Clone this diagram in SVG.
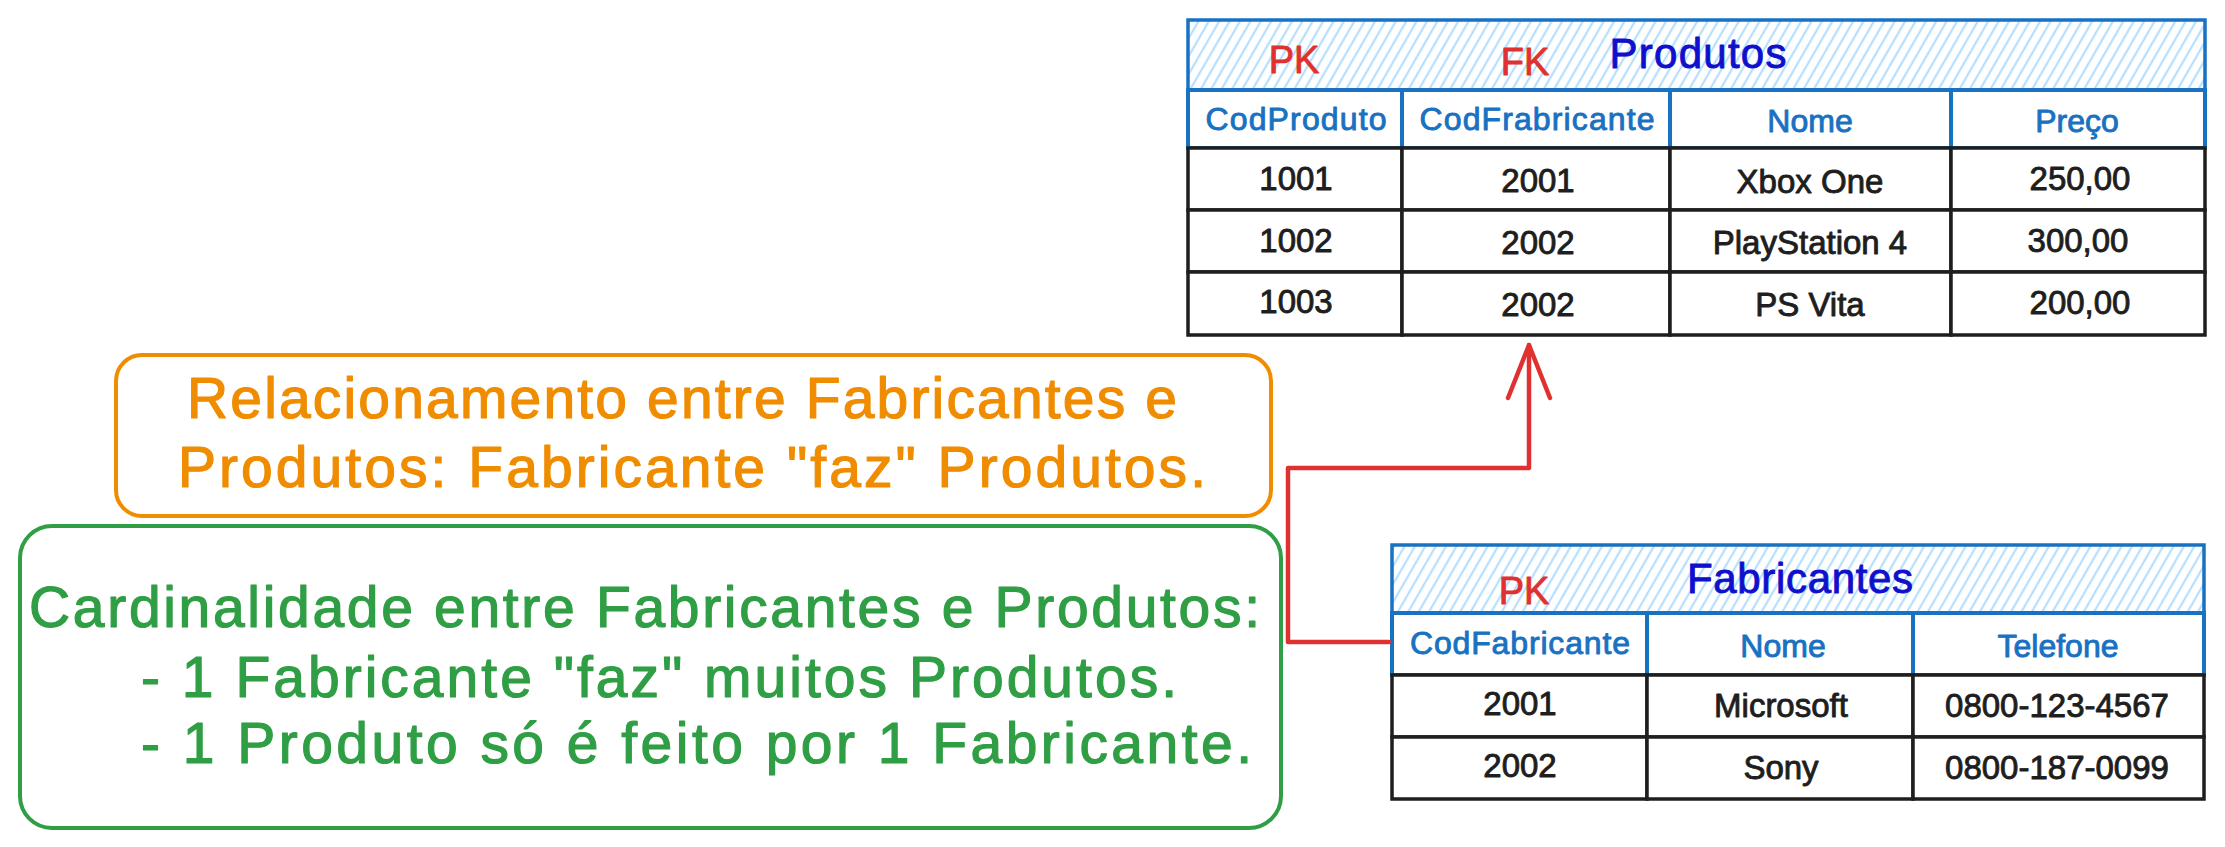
<svg xmlns="http://www.w3.org/2000/svg" width="2225" height="847" viewBox="0 0 2225 847">
<style>
text{font-family:"Liberation Sans",Arial,sans-serif;text-anchor:middle;dominant-baseline:central;stroke-width:0.9;stroke-linejoin:round}
.hdr{fill:url(#hatch);stroke:#1971c2;stroke-width:3.5}
.colh{fill:#fff;stroke:#1971c2;stroke-width:4}
.cell{fill:#fff;stroke:#1e1e1e;stroke-width:3.5}
.key{fill:#e03131;stroke:#e03131;font-size:38px}
.title{fill:#0f0fcc;stroke:#0f0fcc;font-size:42px}
.th{fill:#1971c2;stroke:#1971c2;font-size:32px}
.td{fill:#1e1e1e;stroke:#1e1e1e;font-size:33px}
.note-o{fill:#fff;stroke:#f08c00;stroke-width:4}
.note-g{fill:#fff;stroke:#2f9e44;stroke-width:4}
.to{fill:#f08c00;stroke:#f08c00;stroke-width:1.2;font-size:57px}
.tg{fill:#2f9e44;stroke:#2f9e44;stroke-width:1.2;font-size:57px;text-anchor:start}
.conn{fill:none;stroke:#e03131;stroke-width:4.5;stroke-linejoin:round;stroke-linecap:round}
</style>
<defs>
<pattern id="hatch" width="9" height="9" patternUnits="userSpaceOnUse" patternTransform="rotate(30)">
<rect width="9" height="9" fill="#fff"/>
<line x1="4.5" y1="0" x2="4.5" y2="9" stroke="#a5d8ff" stroke-width="1.8"/>
</pattern>
<marker id="arrow" markerUnits="userSpaceOnUse" viewBox="-60 -26 66 52" markerWidth="66" markerHeight="52" refX="0" refY="0" orient="auto">
<path d="M-53,-21 L0,0 L-53,21" fill="none" stroke="#e03131" stroke-width="4.5" stroke-linecap="round" stroke-linejoin="round"/>
</marker>
</defs>

<g id="produtos">
<rect class="hdr" x="1188" y="20" width="1017" height="70"/>
<text class="key" x="1294" y="60">PK</text>
<text class="key" x="1525" y="62">FK</text>
<text class="title" x="1698" y="53" textLength="177">Produtos</text>
<rect class="colh" x="1188" y="90" width="214" height="58"/>
<rect class="colh" x="1402" y="90" width="268" height="58"/>
<rect class="colh" x="1670" y="90" width="281" height="58"/>
<rect class="colh" x="1951" y="90" width="254" height="58"/>
<text class="th" x="1296" y="119" textLength="181">CodProduto</text>
<text class="th" x="1537" y="119" textLength="235">CodFrabricante</text>
<text class="th" x="1810" y="121">Nome</text>
<text class="th" x="2077" y="121">Preço</text>
<rect class="cell" x="1188" y="148" width="214" height="62"/>
<rect class="cell" x="1402" y="148" width="268" height="62"/>
<rect class="cell" x="1670" y="148" width="281" height="62"/>
<rect class="cell" x="1951" y="148" width="254" height="62"/>
<rect class="cell" x="1188" y="210" width="214" height="62"/>
<rect class="cell" x="1402" y="210" width="268" height="62"/>
<rect class="cell" x="1670" y="210" width="281" height="62"/>
<rect class="cell" x="1951" y="210" width="254" height="62"/>
<rect class="cell" x="1188" y="272" width="214" height="63"/>
<rect class="cell" x="1402" y="272" width="268" height="63"/>
<rect class="cell" x="1670" y="272" width="281" height="63"/>
<rect class="cell" x="1951" y="272" width="254" height="63"/>
<text class="td" x="1296" y="178">1001</text>
<text class="td" x="1538" y="180">2001</text>
<text class="td" x="1810" y="181">Xbox One</text>
<text class="td" x="2080" y="178">250,00</text>
<text class="td" x="1296" y="240">1002</text>
<text class="td" x="1538" y="242">2002</text>
<text class="td" x="1810" y="242">PlayStation 4</text>
<text class="td" x="2078" y="240">300,00</text>
<text class="td" x="1296" y="301">1003</text>
<text class="td" x="1538" y="304">2002</text>
<text class="td" x="1810" y="304">PS Vita</text>
<text class="td" x="2080" y="302">200,00</text>
</g>

<g id="fabricantes">
<rect class="hdr" x="1392" y="545" width="812" height="68"/>
<text class="key" x="1524" y="591">PK</text>
<text class="title" x="1800" y="578" textLength="226">Fabricantes</text>
<rect class="colh" x="1392" y="613" width="255" height="62"/>
<rect class="colh" x="1647" y="613" width="266" height="62"/>
<rect class="colh" x="1913" y="613" width="291" height="62"/>
<text class="th" x="1520" y="643" textLength="220">CodFabricante</text>
<text class="th" x="1783" y="646">Nome</text>
<text class="th" x="2058" y="646">Telefone</text>
<rect class="cell" x="1392" y="675" width="255" height="62"/>
<rect class="cell" x="1647" y="675" width="266" height="62"/>
<rect class="cell" x="1913" y="675" width="291" height="62"/>
<rect class="cell" x="1392" y="737" width="255" height="62"/>
<rect class="cell" x="1647" y="737" width="266" height="62"/>
<rect class="cell" x="1913" y="737" width="291" height="62"/>
<text class="td" x="1520" y="703">2001</text>
<text class="td" x="1781" y="705">Microsoft</text>
<text class="td" x="2057" y="705">0800-123-4567</text>
<text class="td" x="1520" y="765">2002</text>
<text class="td" x="1781" y="767">Sony</text>
<text class="td" x="2057" y="767">0800-187-0099</text>
</g>

<g id="nota-relacionamento">
<rect class="note-o" x="116" y="355" width="1155" height="161" rx="26"/>
<text class="to" x="682" y="398" textLength="990">Relacionamento entre Fabricantes e</text>
<text class="to" x="692" y="467" textLength="1028">Produtos: Fabricante "faz" Produtos.</text>
</g>

<g id="nota-cardinalidade">
<rect class="note-g" x="20" y="526" width="1261" height="302" rx="32"/>
<text class="tg" x="29" y="607" textLength="1231">Cardinalidade entre Fabricantes e Produtos:</text>
<text class="tg" x="141" y="677" textLength="1036">- 1 Fabricante "faz" muitos Produtos.</text>
<text class="tg" x="141" y="743" textLength="1111">- 1 Produto só é feito por 1 Fabricante.</text>
</g>

<g id="connectors">
<path class="conn" d="M1389,642 L1288,642 L1288,468 L1529,468 L1529,345" marker-end="url(#arrow)"/>
</g>
</svg>
